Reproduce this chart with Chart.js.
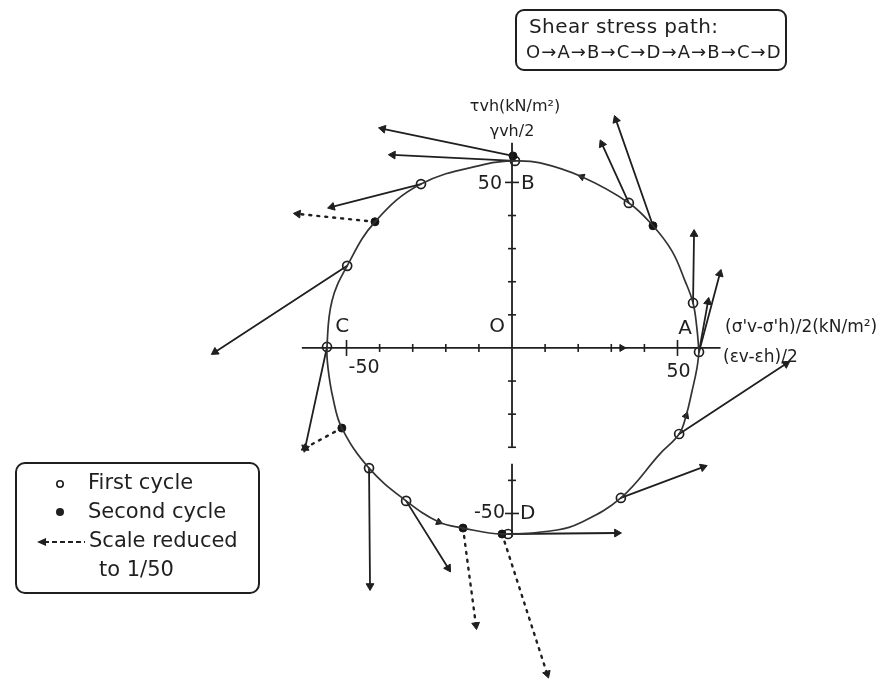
<!DOCTYPE html>
<html>
<head>
<meta charset="utf-8">
<title>Shear stress path</title>
<script src="https://cdn.jsdelivr.net/npm/chart.js@4"></script>
<style>
  html, body { margin: 0; padding: 0; background: #fff; }
  canvas { display: block; }
</style>
</head>
<body>
<canvas id="path-chart" width="886" height="680"></canvas>
<script>
/* ---- data (kN/m2) ---- */

// stress path, going round A -> B -> C -> D -> A
var pathPoints = [
  [56.5, -1.2], [55.8, 6.5], [54.7, 13.6], [52.3, 20.2], [48.3, 29.3], [42.6, 36.9],
  [35.3, 43.8], [21.1, 51.7], [8.5, 55.9], [0.9, 56.5], [-7.6, 55.6], [-27.5, 49.5],
  [-41.4, 38.1], [-49.8, 24.8], [-54.4, 14.2], [-55.9, 0.3], [-55.6, -6.0], [-54.1, -15.1],
  [-51.4, -24.2], [-43.2, -36.3], [-32.0, -46.2], [-22.1, -52.6], [-14.8, -54.4], [-3.0, -56.2],
  [13.6, -55.0], [20.5, -52.9], [32.9, -45.3], [44.7, -32.0], [50.5, -26.0], [52.6, -20.5],
  [54.4, -13.0], [55.9, -6.0], [56.5, -1.2]
];

// measured states, first cycle (open) and second cycle (filled)
var firstCycle = [
  [0.9, 56.5], [-27.5, 49.5], [-49.8, 24.8], [-55.9, 0.3], [-43.2, -36.3], [-32.0, -46.2],
  [-1.2, -56.2], [32.9, -45.3], [50.5, -26.0], [56.5, -1.2], [54.7, 13.6], [35.3, 43.8]
];
var secondCycle = [
  [0.3, 58.0], [-41.4, 38.1], [-51.4, -24.2], [-14.8, -54.4], [-3.0, -56.2], [42.6, 36.9]
];

// direction of travel along the path
var pathArrows = [[21.1, 51.7], [-22.1, -52.6], [52.6, -20.5]];
var axisArrows = [[33.2, 0]];

// strain increment vectors [x0, y0, x1, y1]
var strainVectors = [
  [0.3, 58.0, -39.0, 66.2],
  [0.9, 56.5, -36.0, 58.3],
  [-27.5, 49.5, -54.4, 42.6],
  [-49.8, 24.8, -89.7, -1.2],
  [-55.9, 0.3, -62.5, -30.2],
  [-43.2, -36.3, -42.9, -71.9],
  [-32.0, -46.2, -19.3, -66.5],
  [-1.2, -56.2, 31.7, -55.9],
  [32.9, -45.3, 57.7, -36.0],
  [50.5, -26.0, 82.8, -4.8],
  [56.5, -1.2, 59.2, 13.9],
  [56.5, -1.2, 62.8, 22.4],
  [54.7, 13.6, 55.0, 34.4],
  [35.3, 43.8, 27.2, 61.6],
  [42.6, 36.9, 31.4, 68.9]
];
// vectors drawn at 1/50 scale
var reducedVectors = [
  [-41.4, 38.1, -64.7, 40.5],
  [-51.4, -24.2, -62.5, -30.2],
  [-14.8, -54.4, -10.9, -83.7],
  [-3.0, -56.2, 10.6, -98.4]
];

// axes
var xAxisRange = [-63.5, 63];
var yAxisSegments = [[62, -30.2], [-35, -57]];
var tickValues = [-50, -40, -30, -20, -10, 10, 20, 30, 40, 50];
var tickLabels = ['50', '-50'];

var ink = '#1f1f1f';

/* ---- helpers ---- */
function xy(p) { return { x: p[0], y: p[1] }; }

function arrowRotation(c) {
  var d = c.dataset.data;
  var xs = c.chart.scales.x, ys = c.chart.scales.y;
  var dx = xs.getPixelForValue(d[1].x) - xs.getPixelForValue(d[0].x);
  var dy = ys.getPixelForValue(d[1].y) - ys.getPixelForValue(d[0].y);
  return Math.atan2(dx, -dy) * 180 / Math.PI;
}

function vectorDataset(v, reduced) {
  return {
    type: 'line',
    data: [{ x: v[0], y: v[1] }, { x: v[2], y: v[3] }],
    borderColor: ink,
    backgroundColor: ink,
    borderWidth: reduced ? 2.4 : 1.8,
    borderDash: reduced ? [2, 6] : [],
    borderCapStyle: 'round',
    pointStyle: 'triangle',
    pointRadius: function(c) { return c.dataIndex === 1 ? 4.5 : 0; },
    pointRotation: arrowRotation,
    pointBorderWidth: 1,
    tension: 0
  };
}

var datasets = [];

// stress path curve
datasets.push({
  type: 'line',
  data: pathPoints.map(xy),
  borderColor: '#333',
  borderWidth: 1.7,
  pointRadius: 0,
  tension: 0.4,
  fill: false
});

// x axis
datasets.push({
  type: 'line',
  data: [{ x: xAxisRange[0], y: 0 }, { x: xAxisRange[1], y: 0 }],
  borderColor: ink, borderWidth: 1.8, pointRadius: 0
});
// y axis (broken below the origin)
var yAxisData = [];
yAxisSegments.forEach(function(s, i) {
  if (i > 0) yAxisData.push({ x: 0, y: null });
  yAxisData.push({ x: 0, y: s[0] }, { x: 0, y: s[1] });
});
datasets.push({
  type: 'line', data: yAxisData, spanGaps: false,
  borderColor: ink, borderWidth: 1.8, pointRadius: 0
});

// tick marks
datasets.push({
  type: 'scatter',
  data: tickValues.map(function(v) { return { x: v, y: 0 }; }),
  pointStyle: 'line', pointRotation: 90, borderColor: ink, pointBorderWidth: 1.6,
  pointRadius: function(c) { return Math.abs(c.raw.x) === 50 ? 8 : 4; }
});
datasets.push({
  type: 'scatter',
  data: tickValues.map(function(v) { return { x: 0, y: v }; }),
  pointStyle: 'line', pointRotation: 0, borderColor: ink, pointBorderWidth: 1.6,
  pointRadius: function(c) { return Math.abs(c.raw.y) === 50 ? 7 : 4; }
});

strainVectors.forEach(function(v) { datasets.push(vectorDataset(v, false)); });
reducedVectors.forEach(function(v) { datasets.push(vectorDataset(v, true)); });

// travel direction marks on the path (anticlockwise)
datasets.push({
  type: 'scatter',
  data: pathArrows.map(xy),
  pointStyle: 'triangle', pointRadius: 4,
  backgroundColor: ink, borderColor: ink, pointBorderWidth: 1,
  pointRotation: function(c) { return Math.atan2(-c.raw.y, c.raw.x) * 180 / Math.PI; }
});
datasets.push({
  type: 'scatter',
  data: axisArrows.map(xy),
  pointStyle: 'triangle', pointRadius: 4, pointRotation: 90,
  backgroundColor: ink, borderColor: ink, pointBorderWidth: 1
});

// measured points
datasets.push({
  type: 'scatter',
  data: secondCycle.map(xy),
  pointStyle: 'circle', pointRadius: 4,
  backgroundColor: '#151515', borderColor: '#151515', pointBorderWidth: 1
});
datasets.push({
  type: 'scatter',
  data: firstCycle.map(xy),
  pointStyle: 'circle', pointRadius: 4.5,
  backgroundColor: '#fff', borderColor: ink, pointBorderWidth: 1.7
});

/* ---- labels, title box, key ---- */
function roundRect(ctx, x, y, w, h, r) {
  ctx.beginPath();
  ctx.moveTo(x + r, y);
  ctx.arcTo(x + w, y, x + w, y + h, r);
  ctx.arcTo(x + w, y + h, x, y + h, r);
  ctx.arcTo(x, y + h, x, y, r);
  ctx.arcTo(x, y, x + w, y, r);
  ctx.closePath();
  ctx.stroke();
}

var figureText = {
  id: 'figureText',
  afterDraw: function(chart) {
    var ctx = chart.ctx, xs = chart.scales.x, ys = chart.scales.y;
    var x0 = xs.getPixelForValue(0), y0 = ys.getPixelForValue(0);
    var font = "'DejaVu Sans', sans-serif";
    ctx.save();
    ctx.fillStyle = ink;
    ctx.strokeStyle = ink;
    ctx.textBaseline = 'middle';

    // tick values
    ctx.font = '19px ' + font;
    ctx.textAlign = 'center';
    ctx.fillText(tickLabels[0], xs.getPixelForValue(50) + 1, y0 + 24);
    ctx.textAlign = 'left';
    ctx.fillText(tickLabels[1], xs.getPixelForValue(-50) + 2, y0 + 20);
    ctx.textAlign = 'right';
    ctx.fillText(tickLabels[0], x0 - 10, ys.getPixelForValue(50) + 2);
    ctx.fillText(tickLabels[1], x0 - 7, ys.getPixelForValue(-50));

    // state letters
    ctx.font = '20px ' + font;
    ctx.textAlign = 'center';
    ctx.fillText('A', xs.getPixelForValue(52.3), y0 - 19);
    ctx.fillText('C', xs.getPixelForValue(-51.3), y0 - 21);
    ctx.fillText('O', x0 - 15, y0 - 21);
    ctx.textAlign = 'left';
    ctx.fillText('B', x0 + 9, ys.getPixelForValue(50) + 1);
    ctx.fillText('D', x0 + 8, ys.getPixelForValue(-50));

    // axis titles
    ctx.font = '16px ' + font;
    ctx.textAlign = 'center';
    ctx.fillText('τvh(kN/m²)', x0 + 3, 107);
    ctx.fillText('γvh/2', x0, 132);
    ctx.textAlign = 'left';
    ctx.font = '17px ' + font;
    ctx.fillText("(σ'v-σ'h)/2(kN/m²)", 725, y0 - 20);
    ctx.fillText('(εv-εh)/2', 723, y0 + 10);

    // title box
    ctx.lineWidth = 2;
    roundRect(ctx, 516, 10, 270, 60, 8);
    ctx.font = '20px ' + font;
    ctx.textAlign = 'left';
    ctx.letterSpacing = '0.4px';
    ctx.fillText('Shear stress path:', 529, 28);
    ctx.font = '18px ' + font;
    ctx.letterSpacing = '1.1px';
    ctx.fillText('O→A→B→C→D→A→B→C→D', 526, 53);
    ctx.letterSpacing = '0px';

    // key
    roundRect(ctx, 16, 463, 243, 130, 9);
    ctx.font = '21px ' + font;
    ctx.fillText('First cycle', 88, 484);
    ctx.fillText('Second cycle', 88, 513);
    ctx.fillText('Scale reduced', 89, 542);
    ctx.fillText('to 1/50', 99, 571);
    ctx.lineWidth = 1.6;
    ctx.beginPath();
    ctx.arc(60, 484, 3.2, 0, Math.PI * 2);
    ctx.stroke();
    ctx.beginPath();
    ctx.arc(60, 512, 4, 0, Math.PI * 2);
    ctx.fill();
    ctx.lineWidth = 2;
    ctx.setLineDash([5, 3]);
    ctx.beginPath();
    ctx.moveTo(44, 542);
    ctx.lineTo(85, 542);
    ctx.stroke();
    ctx.setLineDash([]);
    ctx.beginPath();
    ctx.moveTo(37, 542);
    ctx.lineTo(46, 538);
    ctx.lineTo(46, 546);
    ctx.closePath();
    ctx.fill();

    ctx.restore();
  }
};

new Chart(document.getElementById('path-chart'), {
  type: 'scatter',
  data: { datasets: datasets },
  options: {
    responsive: false,
    animation: false,
    devicePixelRatio: 1,
    layout: { padding: 0, autoPadding: false },
    plugins: { legend: { display: false }, tooltip: { enabled: false } },
    scales: {
      x: { type: 'linear', min: -154.7, max: 113.0, display: false },
      y: { type: 'linear', min: -100.3, max: 105.1, display: false }
    }
  },
  plugins: [figureText]
});
</script>
</body>
</html>
